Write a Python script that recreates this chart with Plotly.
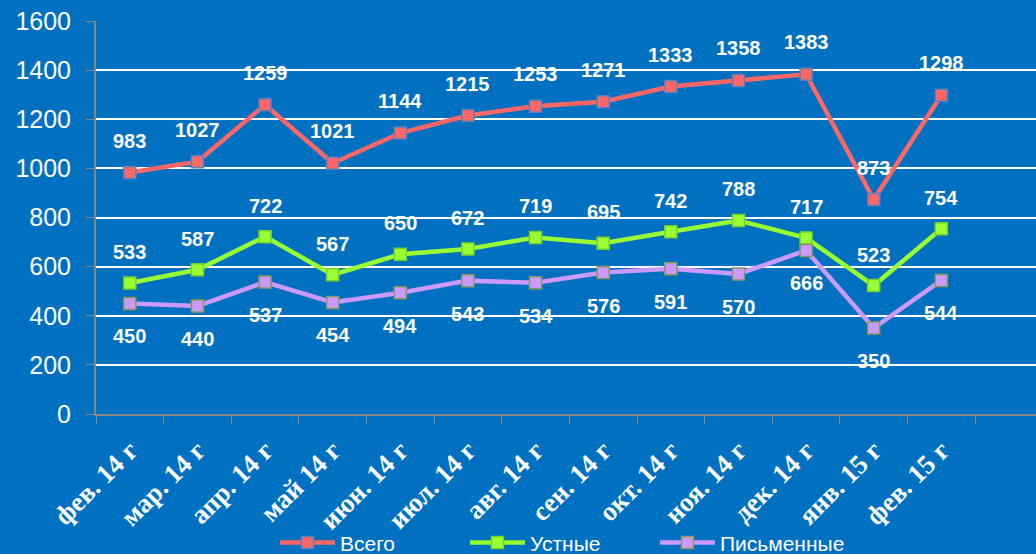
import plotly.graph_objects as go

months = ["фев. 14 г", "мар. 14 г", "апр. 14 г", "май 14 г", "июн. 14 г", "июл. 14 г",
          "авг. 14 г", "сен. 14 г", "окт. 14 г", "ноя. 14 г", "дек. 14 г", "янв. 15 г", "фев. 15 г"]
total = [983, 1027, 1259, 1021, 1144, 1215, 1253, 1271, 1333, 1358, 1383, 873, 1298]
oral = [533, 587, 722, 567, 650, 672, 719, 695, 742, 788, 717, 523, 754]
written = [450, 440, 537, 454, 494, 543, 534, 576, 591, 570, 666, 350, 544]
y_ticks = [0, 200, 400, 600, 800, 1000, 1200, 1400, 1600]

categories = months + [" "]

BG = "#0070C0"
series = [
    ("Всего", total, "#FF6666", "#5B7FBF", 32),
    ("Устные", oral, "#99FF33", "#7AD12A", 31),
    ("Письменные", written, "#CC99FF", "#8A9A5B", -33),
]

fig = go.Figure()
annotations = []
for name, vals, color, border, shift in series:
    fig.add_trace(go.Scatter(
        x=months, y=vals, name=name, mode="lines+markers",
        line=dict(color=color, width=4.5),
        marker=dict(symbol="square", size=12, color=color, line=dict(color=border, width=1.5)),
    ))
    for m, v in zip(months, vals):
        annotations.append(dict(
            x=m, y=v, text=str(v), showarrow=False, yshift=shift,
            font=dict(family="Liberation Sans, Arial", size=20, color="white", weight="bold"),
        ))

fig.update_layout(
    width=1036, height=554,
    paper_bgcolor=BG, plot_bgcolor=BG,
    margin=dict(l=96, r=0, t=21, b=140, autoexpand=False),
    showlegend=True,
    legend=dict(orientation="h", x=0.4936, xanchor="center", y=-0.328, yanchor="middle",
                font=dict(family="Liberation Sans, Arial", size=21, color="white"),
                bgcolor="rgba(0,0,0,0)", itemwidth=55, entrywidth=120, entrywidthmode="pixels",
                tracegroupgap=0),
    annotations=annotations,
)
fig.update_xaxes(
    type="category", categoryorder="array", categoryarray=categories,
    range=[-0.5, 13.4], tickson="boundaries", ticks="outside", ticklen=8,
    tickcolor="#888888", showline=True, linecolor="#888888", linewidth=2,
    showgrid=False, tickangle=-45, ticklabelstandoff=8, automargin=False,
    tickfont=dict(family="Liberation Serif, Times New Roman", size=27, color="white", weight="bold"),
)
fig.update_yaxes(
    range=[0, 1600], tickvals=y_ticks, ticks="outside", ticklen=8, tickcolor="#888888",
    showline=True, linecolor="#888888", linewidth=2, ticklabelstandoff=10, automargin=False,
    showgrid=True, gridcolor="white", gridwidth=2, zeroline=False,
    tickfont=dict(family="Liberation Sans, Arial", size=25, color="white"),
)
fig.write_html("out.html", config={"displayModeBar": False},
               post_script="document.body.style.margin='0';")
